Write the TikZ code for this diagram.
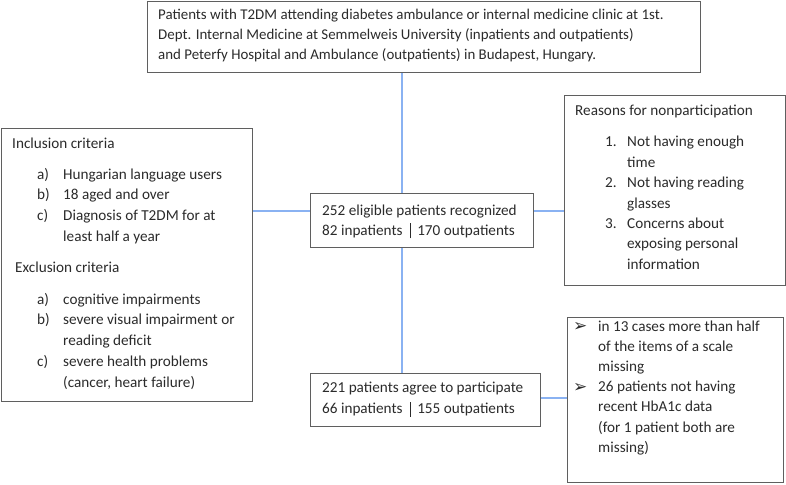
\documentclass[tikz,border=0pt]{standalone}
\usepackage{fontspec}
\setmainfont{Carlito}
\newfontfamily\symfont{DejaVu Sans}
\usepackage{array}
\definecolor{boxgray}{HTML}{5F5F5F}
\definecolor{txtcol}{HTML}{2B2B2B}
\definecolor{connblue}{HTML}{8AB2F2}
\newcommand{\sepbar}{\hspace{7pt}{\color{txtcol}\rule[-3pt]{0.7pt}{15pt}}\hspace{7pt}}
\newcommand{\arrb}{\raisebox{-0.5pt}{\symfont\fontsize{17}{17}\selectfont ➢}}
\begin{document}
\begin{tikzpicture}[x=1pt,y=-1pt,
  box/.style={draw=boxgray, line width=1.3pt, fill=white, inner sep=0pt, anchor=north west, rectangle},
  txt/.style={anchor=base west, inner sep=0pt, text=txtcol, font=\fontsize{15.2}{20.5}\selectfont},
  conn/.style={draw=connblue, line width=1.8pt}]
\useasboundingbox (0,0) rectangle (786,484);
% boxes
\node[box, minimum width=553pt, minimum height=71pt] (top) at (147,1) {};
\node[box, minimum width=251pt, minimum height=273pt] (inc) at (1,128) {};
\node[box, minimum width=221pt, minimum height=190pt] (rea) at (564,95) {};
\node[box, minimum width=223pt, minimum height=54pt] (b1) at (310,193) {};
\node[box, minimum width=230pt, minimum height=53pt] (b2) at (310,373) {};
\node[box, minimum width=216pt, minimum height=165pt] (rb) at (567,317) {};
% connector guide coordinates
\coordinate (vx) at (402,0);
\coordinate (hy) at (0,211);
% connectors
\draw[conn] (top.south -| vx) -- (b1.north -| vx);
\draw[conn] (b1.south -| vx) -- (b2.north -| vx);
\draw[conn] (inc.east |- hy) -- (b1.west |- hy);
\draw[conn] (b1.east |- hy) -- (rea.west |- hy);
\draw[conn] (b2.east |- 0,398) coordinate (c2) -- (c2 -| rb.west);
% texts
\node[txt, font=\fontsize{14.9}{20}\selectfont] (ttop) at (158,20) {\begin{tabular}[t]{@{}l@{}}
Patients with T2DM attending diabetes ambulance or internal medicine clinic at 1st.\\
Dept. Internal Medicine at Semmelweis University (inpatients and outpatients)\\
and Peterfy Hospital and Ambulance (outpatients) in Budapest, Hungary.
\end{tabular}};
\node[txt, font=\fontsize{15.2}{20.7}\selectfont] (tinc) at (12,148) {\begin{tabular}[t]{@{}p{25pt}@{}p{26pt}@{}l@{}}
\multicolumn{3}{@{}l@{}}{Inclusion criteria}\\[10.5pt]
 & a) & Hungarian language users\\
 & b) & 18 aged and over\\
 & c) & Diagnosis of T2DM for at\\
 & & least half a year\\[10.5pt]
\multicolumn{3}{@{}l@{}}{\hspace{3pt}Exclusion criteria}\\[11pt]
 & a) & cognitive impairments\\
 & b) & severe visual impairment or\\
 & & reading deficit\\
 & c) & severe health problems\\
 & & (cancer, heart failure)
\end{tabular}};
\node[txt, font=\fontsize{15.2}{20.4}\selectfont] (trea) at (575,116) {\begin{tabular}[t]{@{}p{30pt}@{}p{22pt}@{}l@{}}
\multicolumn{3}{@{}l@{}}{Reasons for nonparticipation}\\[10.5pt]
 & 1. & Not having enough\\
 & & time\\
 & 2. & Not having reading\\
 & & glasses\\
 & 3. & Concerns about\\
 & & exposing personal\\
 & & information
\end{tabular}};
\node[txt, font=\fontsize{15.2}{20.3}\selectfont] (tb1) at (322,215) {\begin{tabular}[t]{@{}l@{}}
252 eligible patients recognized\\
82 inpatients\sepbar 170 outpatients
\end{tabular}};
\node[txt, font=\fontsize{15.2}{21.7}\selectfont] (tb2) at (322,392) {\begin{tabular}[t]{@{}l@{}}
221 patients agree to participate\\
66 inpatients\sepbar 155 outpatients
\end{tabular}};
\node[txt, font=\fontsize{15.2}{20.2}\selectfont] (trb) at (573,331) {\begin{tabular}[t]{@{}p{25pt}@{}l@{}}
\arrb & in 13 cases more than half\\
 & of the items of a scale\\
 & missing\\
\arrb & 26 patients not having\\
 & recent HbA1c data\\
 & (for 1 patient both are\\
 & missing)
\end{tabular}};
\end{tikzpicture}
\end{document}
